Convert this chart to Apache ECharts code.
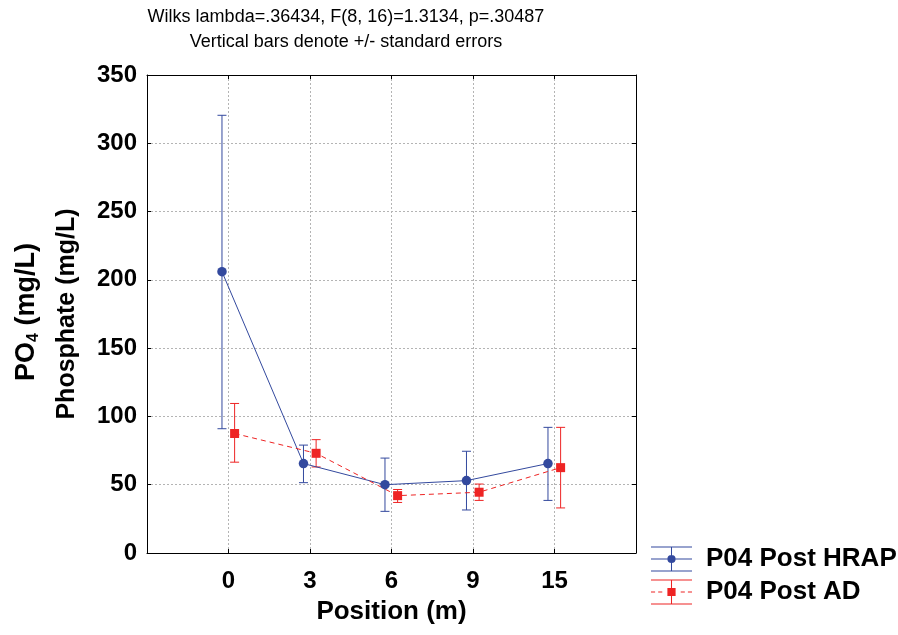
<!DOCTYPE html>
<html>
<head>
<meta charset="utf-8">
<script src="https://cdn.jsdelivr.net/npm/echarts@6/dist/echarts.min.js"></script>
<style>
html,body{margin:0;padding:0;background:#fff;}
#chart{width:898px;height:635px;}
</style>
</head>
<body>
<div id="chart"></div>
<script>
// ---- data ----
const positions = ['0', '3', '6', '9', '15'];
const hrapMean = [206, 65.5, 50, 53, 65.5];
const hrapLow  = [91, 51.5, 30.5, 31.5, 38.5];
const hrapHigh = [320.5, 79, 69.5, 74.5, 92];
const adMean = [87.5, 73, 42, 44.5, 62.5];
const adLow  = [66.5, 63, 37, 38.5, 33];
const adHigh = [109.5, 83, 46.5, 50.5, 92];
const yTicks = [0, 50, 100, 150, 200, 250, 300, 350];
const seriesNames = ['P04 Post HRAP', 'P04 Post AD'];
const titleLines = ['Wilks lambda=.36434, F(8, 16)=1.3134, p=.30487', 'Vertical bars denote +/- standard errors'];

// ---- styling ----
const BLUE = '#33499e';
const RED = '#ee2424';
const FONT = '"Liberation Sans", Arial, sans-serif';
const DODGE_HRAP = -0.08;
const DODGE_AD = 0.075;

const hrapLine = positions.map((p, i) => [i + DODGE_HRAP, hrapMean[i]]);
const adLine = positions.map((p, i) => [i + DODGE_AD, adMean[i]]);
const hrapErr = positions.map((p, i) => [i + DODGE_HRAP, hrapLow[i], hrapHigh[i]]);
const adErr = positions.map((p, i) => [i + DODGE_AD, adLow[i], adHigh[i]]);

function errRender(color) {
  return function (params, api) {
    const x = api.value(0);
    const lo = api.coord([x, api.value(1)]);
    const hi = api.coord([x, api.value(2)]);
    const hw = 4.5;
    const st = { stroke: color, lineWidth: 1 };
    return {
      type: 'group',
      children: [
        { type: 'line', shape: { x1: lo[0], y1: lo[1], x2: hi[0], y2: hi[1] }, style: st },
        { type: 'line', shape: { x1: lo[0] - hw, y1: lo[1], x2: lo[0] + hw, y2: lo[1] }, style: st },
        { type: 'line', shape: { x1: hi[0] - hw, y1: hi[1], x2: hi[0] + hw, y2: hi[1] }, style: st }
      ]
    };
  };
}

const iconHrap = 'path://M0,0L40,0L40,1L0,1Z M0,24L40,24L40,25L0,25Z M19.5,0L20.5,0L20.5,25L19.5,25Z M0,12L40,12L40,13L0,13Z M16,12.5a4,4 0 1,1 8,0a4,4 0 1,1 -8,0Z';
const iconAd = 'path://M0,0L40,0L40,1L0,1Z M0,24L40,24L40,25L0,25Z M19.5,0L20.5,0L20.5,25L19.5,25Z M0,12L4,12L4,13L0,13Z M7,12L11,12L11,13L7,13Z M29,12L33,12L33,13L29,13Z M36,12L40,12L40,13L36,13Z M16,8.5L24,8.5L24,16.5L16,16.5Z';

const gridLine = { show: true, lineStyle: { color: '#b4b4b4', type: [2, 2], width: 1 } };
const axLine = { show: true, onZero: false, lineStyle: { color: '#000', width: 1 } };
const tickIn = { show: true, inside: true, length: 4, lineStyle: { color: '#000' } };

const chart = echarts.init(document.getElementById('chart'), null, { renderer: 'canvas' });
chart.setOption({
  animation: false,
  backgroundColor: '#fff',
  textStyle: { fontFamily: FONT },
  title: {
    text: titleLines.join('\n'),
    left: 346, top: 5, textAlign: 'center', padding: 0,
    textStyle: { fontFamily: FONT, fontSize: 18, fontWeight: 'normal', color: '#000', lineHeight: 25 }
  },
  grid: { left: 147, right: 262, top: 75, bottom: 82, containLabel: false },
  legend: {
    orient: 'vertical', left: 651, top: 546, padding: 0,
    itemWidth: 41, itemHeight: 25, itemGap: 7,
    symbolKeepAspect: false,
    itemStyle: { borderWidth: 0 },
    selectedMode: false,
    textStyle: { fontFamily: FONT, fontSize: 26, fontWeight: 'bold', color: '#000', padding: [0, 0, 0, 9] },
    data: [
      { name: seriesNames[0], icon: iconHrap, itemStyle: { color: BLUE } },
      { name: seriesNames[1], icon: iconAd, itemStyle: { color: RED } }
    ]
  },
  xAxis: [
    {
      type: 'value', min: -1, max: 5, interval: 1, position: 'bottom',
      axisLine: axLine, axisTick: tickIn, splitLine: gridLine,
      axisLabel: {
        margin: 16, fontFamily: FONT, fontSize: 24, fontWeight: 'bold', color: '#000',
        formatter: v => (v >= 0 && v < positions.length) ? positions[v] : ''
      },
      name: 'Position (m)', nameLocation: 'middle', nameGap: 46,
      nameTextStyle: { fontFamily: FONT, fontSize: 26, fontWeight: 'bold', color: '#000' }
    },
    {
      type: 'value', min: -1, max: 5, interval: 1, position: 'top',
      axisLine: axLine, axisTick: tickIn, splitLine: { show: false }, axisLabel: { show: false }
    }
  ],
  yAxis: [
    {
      type: 'value', min: yTicks[0], max: yTicks[yTicks.length - 1], interval: 50, position: 'left',
      axisLine: axLine, axisTick: tickIn, splitLine: gridLine,
      axisLabel: { margin: 10, fontFamily: FONT, fontSize: 24, fontWeight: 'bold', color: '#000' },
      name: 'Phosphate (mg/L)', nameLocation: 'middle', nameGap: 67, nameRotate: 90,
      nameTextStyle: { fontFamily: FONT, fontSize: 25, fontWeight: 'bold', color: '#000' }
    },
    {
      type: 'value', min: yTicks[0], max: yTicks[yTicks.length - 1], interval: 50, position: 'right',
      axisLine: axLine, axisTick: tickIn, splitLine: { show: false }, axisLabel: { show: false }
    }
  ],
  graphic: [
    {
      type: 'text', x: 27, y: 312, rotation: Math.PI / 2,
      style: {
        text: '{a|PO}{s|4}{a| (mg/L)}',
        align: 'center', verticalAlign: 'middle',
        rich: {
          a: { fontFamily: FONT, fontSize: 27, fontWeight: 'bold', fill: '#000', lineHeight: 30 },
          s: { fontFamily: FONT, fontSize: 16, fontWeight: 'bold', fill: '#000', lineHeight: 16, verticalAlign: 'bottom' }
        }
      }
    }
  ],
  series: [
    {
      name: seriesNames[0], type: 'custom', xAxisIndex: 0, yAxisIndex: 0,
      renderItem: errRender(BLUE), data: hrapErr, z: 2, silent: true,
      itemStyle: { color: BLUE }
    },
    {
      name: seriesNames[1], type: 'custom', xAxisIndex: 0, yAxisIndex: 0,
      renderItem: errRender(RED), data: adErr, z: 2, silent: true,
      itemStyle: { color: RED }
    },
    {
      name: seriesNames[0], type: 'line', data: hrapLine,
      symbol: 'circle', symbolSize: 9.5, z: 3,
      lineStyle: { color: BLUE, width: 1 },
      itemStyle: { color: BLUE, borderWidth: 0 }
    },
    {
      name: seriesNames[1], type: 'line', data: adLine,
      symbol: 'rect', symbolSize: 9, z: 3,
      lineStyle: { color: RED, width: 1, type: [5, 4] },
      itemStyle: { color: RED, borderWidth: 0 }
    }
  ]
});
</script>
</body>
</html>
